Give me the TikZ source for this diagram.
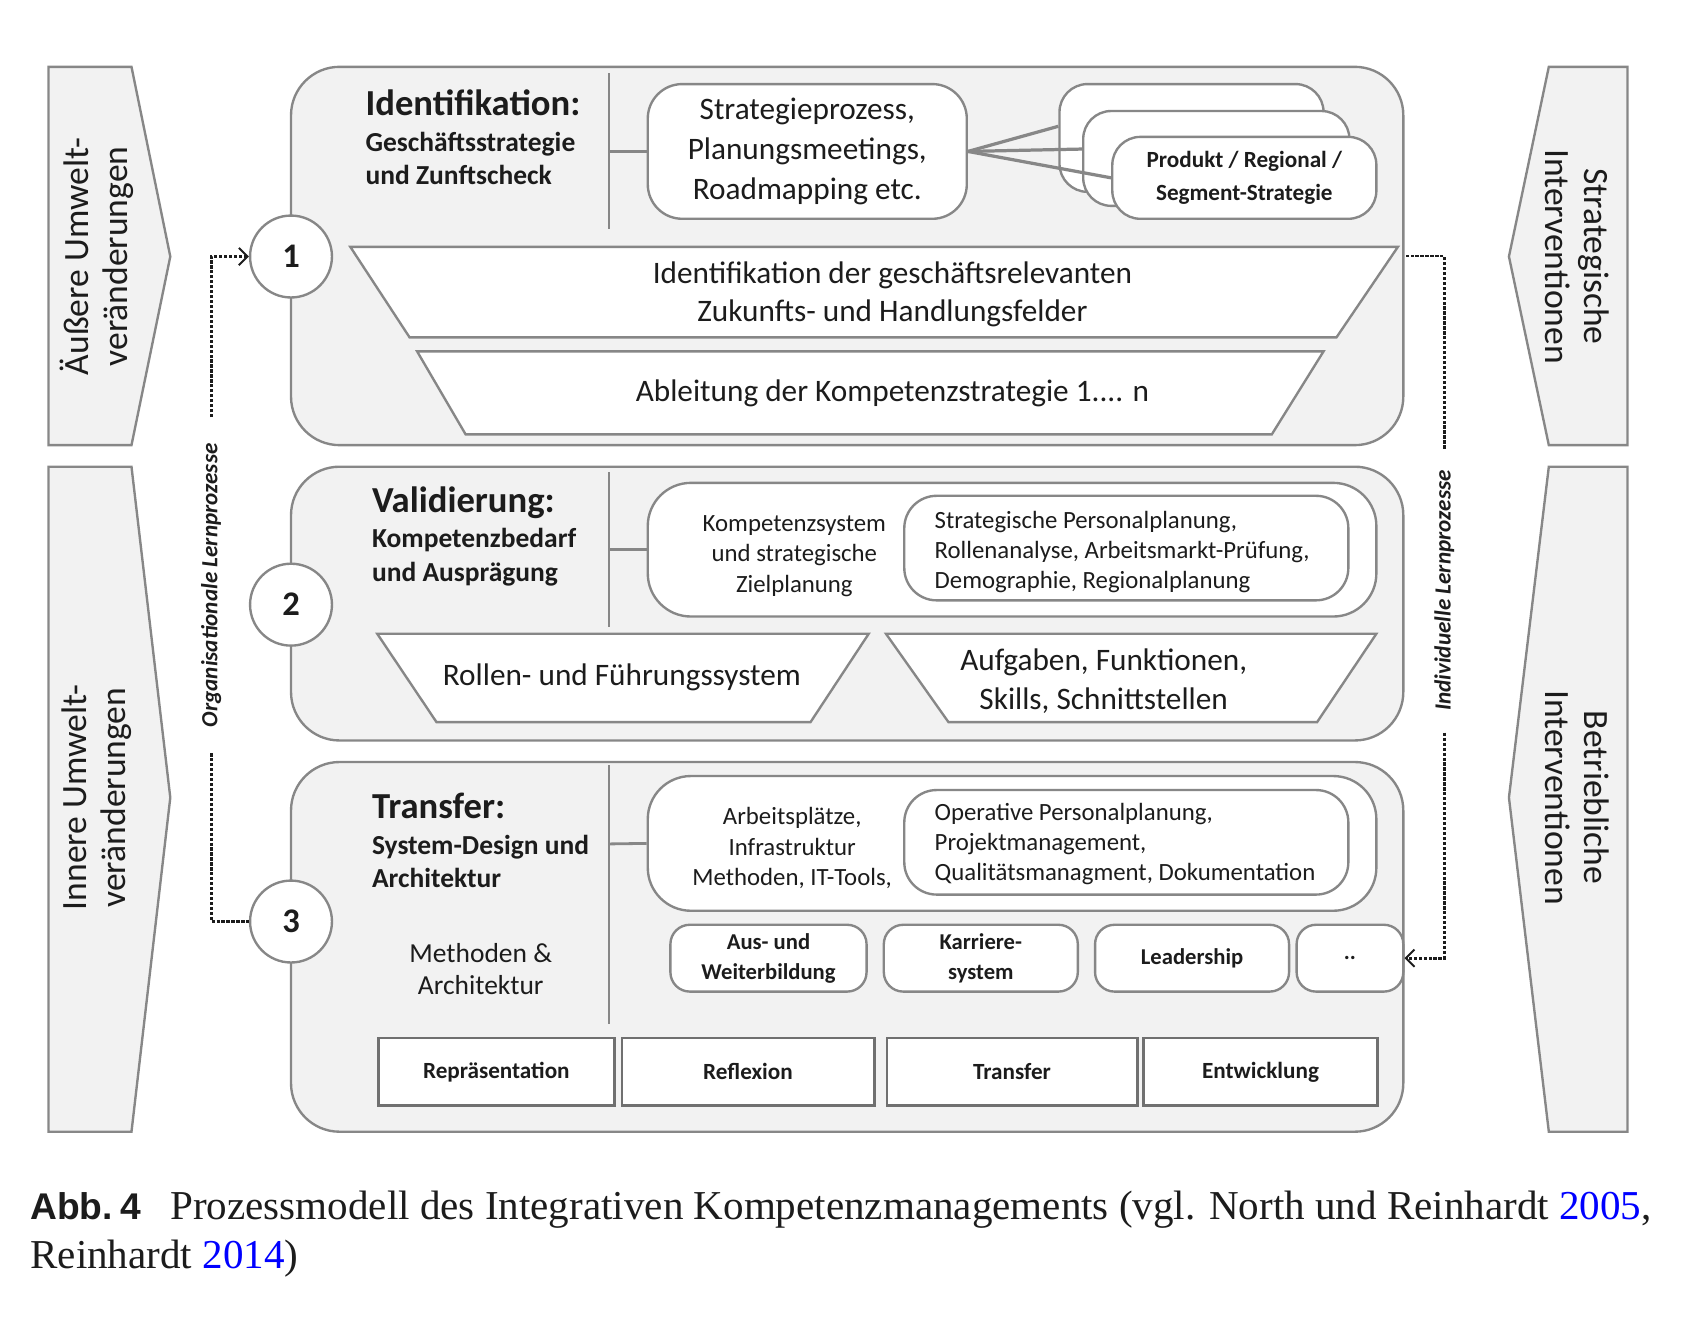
\documentclass[tikz,border=0pt]{standalone}
\usepackage{fontspec}
\setmainfont{Carlito}
\newfontfamily\capserif{Liberation Serif}
\newfontfamily\capsans{Liberation Sans}
\usetikzlibrary{arrows.meta}
\definecolor{boxfill}{HTML}{F2F2F2}
\definecolor{edge}{HTML}{878787}
\definecolor{edgedark}{HTML}{707070}
\definecolor{ink}{HTML}{1C1C1C}
\definecolor{citeblue}{HTML}{0000FF}
\newcommand{\fsz}[2]{\fontsize{#1}{#2}\selectfont}
\tikzset{
  every node/.style={text=ink},
  panel/.style={draw=edge, line width=2.2pt, fill=boxfill, rounded corners=45pt, inner sep=0pt},
  sidearrow/.style={draw=edge, line width=2.2pt, fill=boxfill, line join=miter},
  sidetext/.style={align=center, font=\fsz{33}{36}, inner sep=0pt},
  numcirc/.style={circle, draw=edge, line width=2.2pt, fill=white, minimum size=76pt, inner sep=0pt, font=\fsz{32}{32}\bfseries},
  heading/.style={anchor=west, font=\fsz{34}{36}\bfseries, inner sep=0pt},
  subheading/.style={anchor=west, align=left, font=\fsz{25.5}{31}\bfseries, inner sep=0pt},
  divider/.style={draw=edge, line width=2.6pt},
  rbox/.style={draw=edge, line width=2.2pt, fill=white, rounded corners=#1, inner sep=0pt},
  trap/.style={draw=edge, line width=2.2pt, fill=white, line join=miter},
  bodytext/.style={align=center, font=\fsz{29}{36}, inner sep=0pt},
  smalltext/.style={align=center, font=\fsz{23}{28.5}, inner sep=0pt},
  listtext/.style={anchor=west, align=left, font=\fsz{23}{28}, inner sep=0pt},
  smallbox/.style={rbox=18pt, minimum height=62pt, align=center, font=\fsz{21}{28}\bfseries},
  stagebox/.style={draw=edgedark, line width=2.6pt, fill=white, minimum height=63pt, inner sep=0pt, font=\fsz{21.5}{24}\bfseries},
  fanline/.style={draw=edge, line width=3pt},
  dashline/.style={draw=ink, line width=2.5pt, dash pattern=on 3pt off 1.6pt},
  lernlabel/.style={font=\fsz{21.5}{22}\bfseries\itshape, inner ysep=0pt},
  tip/.style={-{Straight Barb[length=8pt,width=16pt,line width=1.8pt]}}
}
\begin{document}
\begin{tikzpicture}[x=1pt,y=-1pt]
\useasboundingbox (0,0) rectangle (1568,1221);

% side arrows
\draw[sidearrow] (45,62) -- (122,62) -- (158,238) -- (122,413) -- (45,413) -- cycle;
\node[sidetext, rotate=90] (aeu) at (90,238) {Äußere Umwelt-\\veränderungen};
\draw[sidearrow] (45,433) -- (122,433) -- (158,740) -- (122,1050) -- (45,1050) -- cycle;
\node[sidetext, rotate=90] (inn) at (90,740) {Innere Umwelt-\\veränderungen};
\draw[sidearrow] (1510,62) -- (1437,62) -- (1400,238) -- (1437,413) -- (1510,413) -- cycle;
\node[sidetext, rotate=-90] (strint) at (1463,238) {Strategische\\Interventionen};
\draw[sidearrow] (1510,433) -- (1437,433) -- (1400,740) -- (1437,1050) -- (1510,1050) -- cycle;
\node[sidetext, rotate=-90] (betint) at (1463,740) {Betriebliche\\Interventionen};

% panels
\node[panel, minimum width=1032pt, minimum height=351pt] (p1) at (786,237.5) {};
\node[panel, minimum width=1032pt, minimum height=254pt] (p2) at (786,560) {};
\node[panel, minimum width=1032pt, minimum height=343pt] (p3) at (786,878.5) {};

% ---------- panel 1
\draw[divider] (565,68) -- (565,212);
\node[heading] (h1) at (339,95) {Identifikation:};
\node[subheading] (s1) at (339,147) {Geschäftsstrategie\\und Zunftscheck};
\node[rbox=32pt, minimum width=296pt, minimum height=125pt, align=center, font=\fsz{29}{37}] (strat) at (749,140.5) {Strategieprozess,\\Planungsmeetings,\\Roadmapping etc.};
\draw[divider] (565,140.5) -- (strat.west);
\node[rbox=26pt, minimum width=245pt, minimum height=100pt] (sb1) at (1105.5,128) {};
\node[rbox=26pt, minimum width=247pt, minimum height=88pt] (sb2) at (1128.5,147) {};
\node[rbox=26pt, minimum width=245pt, minimum height=76pt, align=center, font=\fsz{21.5}{30}\bfseries] (sb3) at (1154.5,165) {Produkt / Regional /\\Segment-Strategie};
\draw[fanline] (strat.east) -- (sb1.175);
\draw[fanline] (strat.east) -- (sb2.176);
\draw[fanline] (strat.east) -- (sb3.west);
\draw[trap] (325,229) -- (1297,229) -- (1240,313) -- (380,313) -- cycle;
\node[bodytext] (t1) at (828,273) {Identifikation der geschäftsrelevanten\\Zukunfts- und Handlungsfelder};
\draw[trap] (387,326) -- (1228,326) -- (1180,403) -- (432,403) -- cycle;
\node[bodytext] (t2) at (828,365) {Ableitung der Kompetenzstrategie 1.... n};

% ---------- panel 2
\draw[divider] (565,438) -- (565,582);
\node[heading] (h2) at (345,466) {Validierung:};
\node[subheading] (s2) at (345,517) {Kompetenzbedarf\\und Ausprägung};
\node[rbox=40pt, minimum width=676pt, minimum height=124pt] (kz) at (939,510) {};
\draw[divider] (565,510) -- (kz.west);
\node[smalltext] (kzt) at (737,516) {Kompetenzsystem\\und strategische\\Zielplanung};
\node[rbox=30pt, minimum width=412pt, minimum height=97pt] (sp) at (1045,508.5) {};
\node[listtext] (spt) at (867,512) {Strategische Personalplanung,\\Rollenanalyse, Arbeitsmarkt-Prüfung,\\Demographie, Regionalplanung};
\draw[trap] (350,588) -- (806,588) -- (752,670) -- (405,670) -- cycle;
\node[bodytext] (rf) at (577,628) {Rollen- und Führungssystem};
\draw[trap] (822,588) -- (1277,588) -- (1222,670) -- (880,670) -- cycle;
\node[bodytext] (af) at (1024,632) {Aufgaben, Funktionen,\\Skills, Schnittstellen};

% ---------- panel 3
\draw[divider] (565,710) -- (565,950);
\node[heading] (h3) at (345,748) {Transfer:};
\node[subheading] (s3) at (345,799) {System-Design und\\Architektur};
\node[align=center, font=\fsz{25.5}{30}, inner sep=0pt] (ma) at (446,899) {Methoden \&\\Architektur};
\node[rbox=40pt, minimum width=676pt, minimum height=125pt] (ap) at (939,782.5) {};
\draw[divider] (565,783) -- (ap.west);
\node[smalltext] (apt) at (735,787) {Arbeitsplätze,\\Infrastruktur\\Methoden, IT-Tools,};
\node[rbox=30pt, minimum width=412pt, minimum height=97pt] (op) at (1045,781.5) {};
\node[listtext] (opt) at (867,783) {Operative Personalplanung,\\Projektmanagement,\\Qualitätsmanagment, Dokumentation};
\node[smallbox, minimum width=182pt] (ausw) at (713,889) {Aus- und\\Weiterbildung};
\node[smallbox, minimum width=180pt] (karr) at (910,889) {Karriere-\\system};
\node[smallbox, minimum width=180pt] (lead) at (1106,889) {Leadership};
\node[smallbox, minimum width=99pt] (dots) at (1252.5,889) {..};
\node[stagebox, minimum width=219pt] (repr) at (460.5,994.5) {Repräsentation};
\node[stagebox, minimum width=234pt] (refl) at (694,994.5) {Reflexion};
\node[stagebox, minimum width=232pt] (trans) at (939,994.5) {Transfer};
\node[stagebox, minimum width=217pt] (entw) at (1169.5,994.5) {Entwicklung};

% circles
\node[numcirc] (c1) at (270,238) {1};
\node[numcirc] (c2) at (270,561) {2};
\node[numcirc] (c3) at (270,855) {3};

% learning-process connectors
\node[lernlabel, rotate=90, inner xsep=24pt] (olp) at (196,543) {Organisationale Lernprozesse};
\draw[dashline, tip] (olp.east) |- (c1.west);
\draw[dashline] (olp.west) |- (c3.west);
\node[lernlabel, rotate=90, inner xsep=20pt] (ilp) at (1340,548) {Individuelle Lernprozesse};
\draw[dashline] (ilp.east) |- (p1.east);
\draw[dashline, tip] (ilp.west) |- (dots.east);

% caption
\node[anchor=base west, inner sep=0pt] (cap1) at (28,1131) {{\capsans\bfseries\fsz{34.5}{45}Abb.\hspace{7pt}4}\hspace{27pt}{\capserif\fsz{38.1}{45}Prozessmodell des Integrativen Kompetenzmanagements (vgl. North und Reinhardt \textcolor{citeblue}{2005},}};
\node[anchor=base west, inner sep=0pt, font=\capserif\fsz{38.1}{45}] (cap2) at (28,1177) {Reinhardt \textcolor{citeblue}{2014})};
\end{tikzpicture}
\end{document}
